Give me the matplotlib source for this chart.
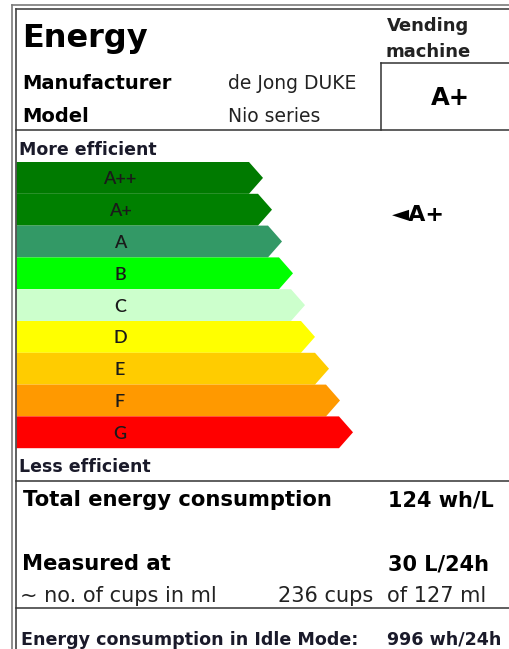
import matplotlib
matplotlib.use("Agg")
import matplotlib.pyplot as plt
from matplotlib.patches import Polygon

# ---- data ----
classes = ["A++", "A+", "A", "B", "C", "D", "E", "F", "G"]
class_colors = ["#007a00", "#008000", "#339966", "#00ff00", "#ccffcc",
                "#ffff00", "#ffcc00", "#ff9900", "#ff0000"]
arrow_tips = [263, 272, 282, 293, 305, 315, 329, 340, 353]
rated_class = "A+"
category = ["Vending", "machine"]
manufacturer = "de Jong DUKE"
model = "Nio series"
total_consumption = "124 wh/L"
measured_at = "30 L/24h"
cups = "236 cups"
cup_size = "of 127 ml"
idle_consumption = "996 wh/24h"

W, H = 510, 649
fig = plt.figure(figsize=(W / 100, H / 100), dpi=100)
ax = fig.add_axes([0, 0, 1, 1])
ax.set_xlim(0, W)
ax.set_ylim(H, 0)
ax.axis("off")

# ---- frame ----
frame_c = "#7a7a7a"
ax.plot([12, 12], [5, H], color=frame_c, lw=1.2)
ax.plot([12, W], [5, 5], color=frame_c, lw=1.2)
ax.plot([16, 16], [9, H], color="#444444", lw=1.2)
ax.plot([16, W], [9, 9], color="#444444", lw=1.2)

line_c = "#333333"
ax.plot([16, W], [130, 130], color=line_c, lw=1.1)
ax.plot([381, W], [63, 63], color=line_c, lw=1.1)
ax.plot([381, 381], [63, 130], color=line_c, lw=1.1)
ax.plot([16, W], [481, 481], color=line_c, lw=1.1)
ax.plot([16, W], [608, 608], color=line_c, lw=1.1)

# ---- header ----
ax.text(22, 47, "Energy", fontsize=23, fontweight="bold", va="baseline", ha="left")
ax.text(428, 31, category[0], fontsize=13, fontweight="bold", va="baseline",
        ha="center", color="#222222")
ax.text(428, 57, category[1], fontsize=13, fontweight="bold", va="baseline",
        ha="center", color="#222222")
ax.text(22, 89, "Manufacturer", fontsize=14, fontweight="bold", va="baseline")
ax.text(228, 89, manufacturer, fontsize=13.5, va="baseline", color="#222222")
ax.text(22, 122, "Model", fontsize=14, fontweight="bold", va="baseline")
ax.text(228, 122, model, fontsize=13.5, va="baseline", color="#222222")
ax.text(450, 105, rated_class, fontsize=17.5, fontweight="bold", va="baseline",
        ha="center")

# ---- scale ----
ax.text(19, 155, "More efficient", fontsize=12.5, fontweight="bold",
        va="baseline", color="#1a1a2a")
top, bh, x0, tip = 162.0, 31.8, 16.5, 14.0
for i, (lab, col, xt) in enumerate(zip(classes, class_colors, arrow_tips)):
    y0 = top + i * bh
    y1 = y0 + bh
    pts = [(x0, y0), (xt - tip, y0), (xt, (y0 + y1) / 2), (xt - tip, y1), (x0, y1)]
    ax.add_patch(Polygon(pts, closed=True, facecolor=col, edgecolor="none"))
    ax.text(120, (y0 + y1) / 2 + 6.5, lab, fontsize=13, family="Lato",
            fontweight="semibold", ha="center", va="baseline", color="#1a1a1a")

ri = classes.index(rated_class)
ax.text(392, top + ri * bh + bh / 2 + 11.5, "\u25c4" + rated_class, fontsize=16,
        fontweight="bold", va="baseline", ha="left")

ax.text(19, 471.5, "Less efficient", fontsize=12.5, fontweight="bold",
        va="baseline", color="#1a1a2a")

# ---- bottom block ----
ax.text(23, 506, "Total energy consumption", fontsize=15.2, fontweight="bold",
        va="baseline")
ax.text(388, 506, total_consumption, fontsize=15, fontweight="bold", va="baseline")
ax.text(22, 570, "Measured at", fontsize=15.2, fontweight="bold", va="baseline")
ax.text(388, 570, measured_at, fontsize=15, fontweight="bold", va="baseline")
ax.text(20, 601.5, "~ no. of cups in ml", fontsize=15, va="baseline", color="#222222")
ax.text(373, 601.5, cups, fontsize=15, va="baseline", ha="right", color="#222222")
ax.text(387, 601.5, cup_size, fontsize=15, va="baseline", ha="left", color="#222222")
ax.text(21, 645, "Energy consumption in Idle Mode:", fontsize=12.6,
        fontweight="bold", va="baseline", color="#1a1a2a")
ax.text(387, 645, idle_consumption, fontsize=12.6, fontweight="bold",
        va="baseline", color="#1a1a2a")

fig.savefig("out.png", dpi=100)
